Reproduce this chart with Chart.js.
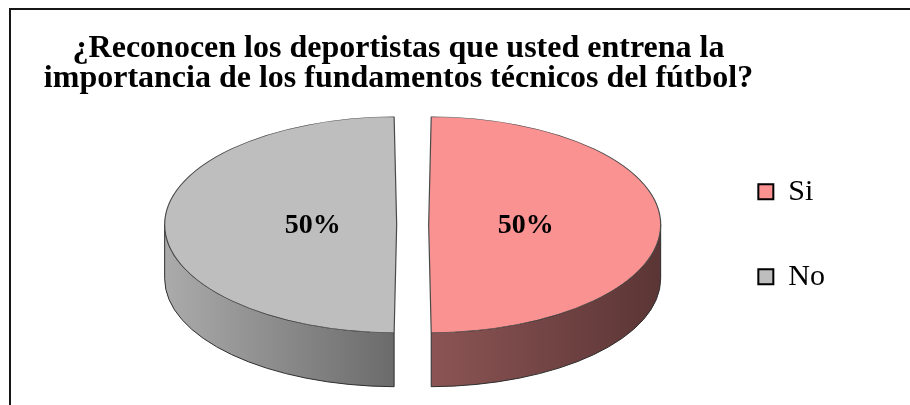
<!DOCTYPE html>
<html>
<head>
<meta charset="utf-8">
<script src="https://cdn.jsdelivr.net/npm/chart.js@4.4.0/dist/chart.umd.min.js"></script>
<style>
  html, body { margin: 0; padding: 0; background: #fff; overflow: hidden; }
  canvas { position: absolute; left: 0; top: 0; }
  #marco { position: absolute; left: 9px; top: 8px; width: 1000px; height: 1000px; border: 2px solid #161616; box-sizing: border-box; }
</style>
</head>
<body>
<canvas id="graficoPie" width="910" height="405"></canvas>
<div id="marco"></div>
<script>
const titulo = ['¿Reconocen los deportistas que usted entrena la', 'importancia de los fundamentos técnicos del fútbol?'];
const categorias = ['Si', 'No'];
const porcentajes = [50, 50];

const coloresCara = ['#FA9292', '#BEBEBE'];
const coloresLado = [['#8c5454', '#5b3535'], ['#ababab', '#6b6b6b']]; // [left, right] of each side wall
const fuente = "'Liberation Serif', 'Times New Roman', serif";

const aplanado = 108 / 232;          // vertical squash of the disc
const grosor = 54;                   // height of the side wall
const desplazo = {x: 61, y: -9.5};   // where the disc sits relative to the chart area centre

function centro(chart) {
  const arc = chart.getDatasetMeta(0).data[0];
  return {cx: arc.x, cy: arc.y, tx: arc.x + desplazo.x, ty: arc.y + desplazo.y};
}

// geometry of one exploded slice on screen (same offset rules as ArcElement.draw)
function rebanada(arc, p) {
  const o = (arc.options.offset || 0) / 4;
  const mid = (arc.startAngle + arc.endAngle) / 2;
  const rx = arc.outerRadius + o;
  return {
    mid, o, rx, ry: rx * aplanado,
    recorte: o / (2 * Math.PI * rx),
    x: p.tx + Math.cos(mid) * o,
    y: p.ty + Math.sin(mid) * o * aplanado
  };
}

const pastel3d = {
  id: 'pastel3d',
  beforeDatasetsDraw(chart) {
    const ctx = chart.ctx;
    const p = centro(chart);
    const arcs = chart.getDatasetMeta(0).data;

    // side walls first, the top faces are drawn over them
    arcs.forEach((arc, i) => {
      const s = rebanada(arc, p);
      const a1 = Math.max(arc.startAngle + s.recorte, 0);
      const a2 = Math.min(arc.endAngle - s.recorte, Math.PI);
      if (a2 <= a1) return;
      const xa = s.x + s.rx * Math.min(Math.cos(a1), Math.cos(a2));
      const xb = s.x + s.rx * Math.max(Math.cos(a1), Math.cos(a2));
      const grad = ctx.createLinearGradient(xa, 0, xb, 0);
      grad.addColorStop(0, coloresLado[i][0]);
      grad.addColorStop(1, coloresLado[i][1]);
      ctx.save();
      ctx.beginPath();
      ctx.ellipse(s.x, s.y, s.rx, s.ry, 0, a1, a2, false);
      ctx.ellipse(s.x, s.y + grosor, s.rx, s.ry, 0, a2, a1, true);
      ctx.closePath();
      ctx.fillStyle = grad;
      ctx.fill();
      ctx.lineWidth = 1;
      ctx.strokeStyle = '#2e2e2e';
      ctx.stroke();
      ctx.restore();
    });

    // squash the round pie into the disc's top face
    ctx.save();
    ctx.translate(p.tx, p.ty);
    ctx.scale(1, aplanado);
    ctx.translate(-p.cx, -p.cy);
  },
  afterDatasetsDraw(chart) {
    const ctx = chart.ctx;
    ctx.restore();
    const p = centro(chart);
    const arcs = chart.getDatasetMeta(0).data;
    const total = porcentajes.reduce((a, b) => a + b, 0);
    ctx.save();
    ctx.font = 'bold 28px ' + fuente;
    ctx.fillStyle = '#000';
    ctx.textAlign = 'center';
    ctx.textBaseline = 'middle';
    arcs.forEach((arc, i) => {
      const s = rebanada(arc, p);
      const d = 0.39 * s.rx;
      const x = s.x + Math.cos(s.mid) * d + 6.5;
      const y = s.y + Math.sin(s.mid) * d * aplanado + 1;
      ctx.fillText(Math.round(porcentajes[i] / total * 100) + '%', x, y);
    });
    ctx.restore();
  }
};

const ctx = document.getElementById('graficoPie').getContext('2d');
const grafico = new Chart(ctx, {
  type: 'pie',
  data: {
    labels: categorias,
    datasets: [{
      data: porcentajes,
      backgroundColor: coloresCara,
      borderColor: '#4a4a4a',
      borderWidth: 1.2,
      offset: 64,
      clip: false
    }]
  },
  options: {
    responsive: false,
    animation: false,
    devicePixelRatio: 1,
    events: [],
    radius: 216,
    // the title spans the whole width and is centred left of the page middle
    layout: { padding: { left: -38, right: 75, top: 0, bottom: 41 } },
    plugins: {
      title: {
        display: true,
        text: titulo,
        fullSize: true,
        color: '#000',
        font: { family: fuente, size: 32, weight: 'bold', lineHeight: 0.96 },
        padding: { top: 33, bottom: 10 }
      },
      legend: {
        position: 'right',
        fullSize: false,
        labels: {
          color: '#000',
          font: { family: fuente, size: 30 },
          boxWidth: 15,
          boxHeight: 15,
          padding: 55,
          generateLabels(chart) {
            const base = Chart.overrides.doughnut.plugins.legend.labels.generateLabels(chart);
            return base.map(l => Object.assign(l, { strokeStyle: '#000', lineWidth: 2 }));
          }
        }
      },
      tooltip: { enabled: false }
    }
  },
  plugins: [pastel3d]
});
</script>
</body>
</html>
